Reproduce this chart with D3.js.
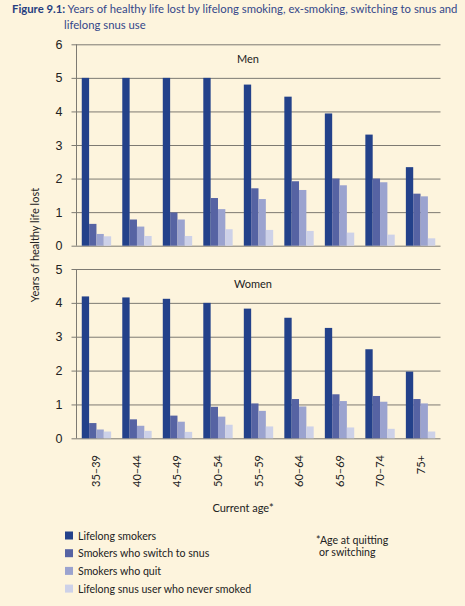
<!DOCTYPE html>
<html><head><meta charset="utf-8">
<script src="https://cdn.jsdelivr.net/npm/d3@7"></script>
<style>
html,body{margin:0;padding:0;background:#fdf4dd;}
svg{display:block;font-family:"Lato","Open Sans",sans-serif;}
</style></head>
<body>
<svg id="c" width="465" height="606"></svg>
<script>
const categories = ["35–39","40–44","45–49","50–54","55–59","60–64","65–69","70–74","75+"];
const seriesNames = ["Lifelong smokers","Smokers who switch to snus","Smokers who quit","Lifelong snus user who never smoked"];
const menLifelong = [5.0,5.0,5.0,5.0,4.8,4.44,3.94,3.31,2.34];
const menSwitch   = [0.65,0.78,0.99,1.42,1.71,1.92,2.0,2.0,1.55];
const menQuit     = [0.35,0.57,0.78,1.09,1.39,1.66,1.8,1.89,1.47];
const menNever    = [0.28,0.29,0.29,0.49,0.47,0.44,0.39,0.33,0.22];
const womenLifelong = [4.19,4.16,4.12,4.0,3.83,3.56,3.26,2.63,1.97];
const womenSwitch   = [0.45,0.56,0.67,0.93,1.03,1.16,1.3,1.25,1.16];
const womenQuit     = [0.26,0.37,0.49,0.64,0.81,0.94,1.1,1.08,1.03];
const womenNever    = [0.2,0.22,0.19,0.4,0.35,0.35,0.32,0.28,0.2];
const menTicks = [0,1,2,3,4,5,6];
const womenTicks = [0,1,2,3,4,5];
const colors = ["#23418a","#5663a3","#9ba3cf","#cdd1e8"];

const svg = d3.select("#c");
const textCol = "#222";
const left = 76.5, right = 440.5;

const x = d3.scaleBand().domain(categories).range([left, right]).paddingInner(0.275).paddingOuter(0.13);
const xs = d3.scaleBand().domain(d3.range(4)).range([0, x.bandwidth()]);

function panel(series, ticks, yTop, yBottom, label, lx, ly) {
  const y = d3.scaleLinear().domain([0, d3.max(ticks)]).range([yBottom, yTop]);
  const g = svg.append("g");
  const ax = d3.axisLeft(y).tickValues(ticks).tickSize(-(right - left)).tickPadding(14).tickFormat(d3.format("d"));
  const ag = g.append("g").attr("transform", `translate(${left},0)`).call(ax);
  ag.select(".domain").remove();
  ag.selectAll(".tick line").attr("stroke", "#7d7a72").attr("stroke-width", 1).attr("x1", -5);
  ag.selectAll(".tick text").attr("fill", textCol).attr("font-size", 12.5);
  g.append("line").attr("x1", left).attr("x2", left).attr("y1", yTop).attr("y2", yBottom)
    .attr("stroke", "#7d7a72").attr("stroke-width", 1);
  series.forEach((vals, si) => {
    g.append("g").selectAll("rect").data(vals).join("rect")
      .attr("x", (d, i) => x(categories[i]) + xs(si))
      .attr("width", xs.bandwidth())
      .attr("y", d => y(d))
      .attr("height", d => y(0) - y(d))
      .attr("fill", colors[si]);
  });
  g.append("text").attr("x", lx).attr("y", ly).text(label).attr("font-size", 11).attr("fill", textCol);
}

panel([menLifelong, menSwitch, menQuit, menNever], menTicks, 44.3, 245.7, "Men", 237, 63);
panel([womenLifelong, womenSwitch, womenQuit, womenNever], womenTicks, 269, 438.3, "Women", 234, 288);

svg.append("g").selectAll("text").data(categories).join("text")
  .attr("transform", d => `translate(${x(d) + x.bandwidth() / 2 + 4},455) rotate(-90)`)
  .attr("text-anchor", "end")
  .attr("font-size", 11)
  .attr("fill", textCol)
  .text(d => d);

svg.append("text").attr("x", 243).attr("y", 512).attr("text-anchor", "middle")
  .attr("font-size", 11).attr("fill", textCol).text("Current age*");

svg.append("text").attr("transform", "translate(39,245) rotate(-90)").attr("text-anchor", "middle")
  .attr("font-size", 11).attr("fill", textCol).text("Years of healthy life lost");

const t = svg.append("text").attr("x", 12).attr("y", 13).attr("font-size", 11.3).attr("fill", "#34478a");
t.append("tspan").attr("font-weight", "bold").attr("fill", "#263e80").text("Figure 9.1:");
t.append("tspan").text(" Years of healthy life lost by lifelong smoking, ex-smoking, switching to snus and");
svg.append("text").attr("x", 64).attr("y", 29).attr("font-size", 11.3).attr("fill", "#34478a").text("lifelong snus use");

const lg = svg.append("g").selectAll("g").data(seriesNames).join("g")
  .attr("transform", (d, i) => `translate(65,${535.5 + i * 17.7})`);
lg.append("rect").attr("x", 0).attr("y", -4).attr("width", 8).attr("height", 8).attr("fill", (d, i) => colors[i]);
lg.append("text").attr("x", 13).attr("y", 4).attr("font-size", 10.6).attr("fill", textCol).text(d => d);

svg.append("text").attr("x", 316).attr("y", 544).attr("font-size", 10.6).attr("fill", textCol).text("*Age at quitting");
svg.append("text").attr("x", 319).attr("y", 556).attr("font-size", 10.6).attr("fill", textCol).text("or switching");
</script>
</body></html>
